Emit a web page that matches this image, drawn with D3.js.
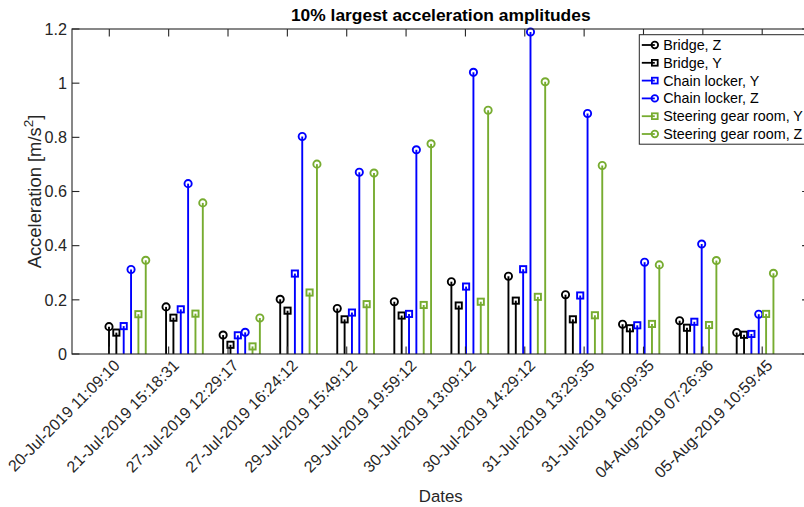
<!DOCTYPE html>
<html>
<head>
<meta charset="utf-8">
<script src="https://cdn.jsdelivr.net/npm/d3@7/dist/d3.min.js"></script>
<style>
  html, body { margin: 0; padding: 0; background: #fff; }
  svg { display: block; font-family: "Liberation Sans", Arial, Helvetica, sans-serif; }
</style>
</head>
<body>
<svg id="chart" width="804" height="507"></svg>
<script>
// Event timestamps (one group of stems per event)
const dates = [
  "20-Jul-2019 11:09:10", "21-Jul-2019 15:18:31", "27-Jul-2019 12:29:17",
  "27-Jul-2019 16:24:12", "29-Jul-2019 15:49:12", "29-Jul-2019 19:59:12",
  "30-Jul-2019 13:09:12", "30-Jul-2019 14:29:12", "31-Jul-2019 13:29:35",
  "31-Jul-2019 16:09:35", "04-Aug-2019 07:26:36", "05-Aug-2019 10:59:45"
];

// Acceleration amplitudes [m/s^2] per sensor and direction
const bridgeZ = [0.101, 0.174, 0.070, 0.202, 0.168, 0.193, 0.267, 0.287, 0.219, 0.110, 0.123, 0.079];
const bridgeY = [0.079, 0.134, 0.034, 0.160, 0.128, 0.142, 0.179, 0.197, 0.128, 0.095, 0.097, 0.071];
const chainY  = [0.103, 0.165, 0.069, 0.297, 0.153, 0.148, 0.249, 0.313, 0.216, 0.106, 0.119, 0.074];
const chainZ  = [0.312, 0.629, 0.080, 0.803, 0.671, 0.754, 1.040, 1.189, 0.888, 0.339, 0.406, 0.147];
const steerY  = [0.147, 0.149, 0.028, 0.227, 0.184, 0.181, 0.193, 0.211, 0.143, 0.111, 0.107, 0.148];
const steerZ  = [0.346, 0.558, 0.133, 0.701, 0.668, 0.776, 0.900, 1.005, 0.696, 0.329, 0.345, 0.298];

const yTicks = [0, 0.2, 0.4, 0.6, 0.8, 1, 1.2];

const series = [
  { name: "Bridge, Z",            values: bridgeZ, color: "#000000", marker: "circle" },
  { name: "Bridge, Y",            values: bridgeY, color: "#000000", marker: "square" },
  { name: "Chain locker, Y",      values: chainY,  color: "#0000ff", marker: "square" },
  { name: "Chain locker, Z",      values: chainZ,  color: "#0000ff", marker: "circle" },
  { name: "Steering gear room, Y",values: steerY,  color: "#77ac30", marker: "square" },
  { name: "Steering gear room, Z",values: steerZ,  color: "#77ac30", marker: "circle" }
];

const svg = d3.select("#chart");
const axisColor = "#262626";

// Axes box
const boxL = 72, boxR = 809.5, boxT = 29, boxB = 354;

// x: tick index units; y: acceleration
const x = d3.scaleLinear().domain([0, 11]).range([109.3, 762.2]);
const y = d3.scaleLinear().domain([0, 1.2]).range([boxB, boxT]);

// stem layout inside each group (in x units)
const groupStep = 0.9614, seriesStep = 0.1238, groupShift = -0.005;
const stemX = (i, k) => x(i * groupStep + groupShift + k * seriesStep);

const tickLen = 7.4;
const g = svg.append("g");

// Stems
series.forEach((s, k) => {
  const sg = g.append("g").attr("stroke", s.color).attr("fill", "none").attr("stroke-width", 1.9);
  s.values.forEach((v, i) => {
    const cx = stemX(i, k), cy = y(v);
    sg.append("line").attr("x1", cx).attr("x2", cx).attr("y1", y(0)).attr("y2", cy);
    if (s.marker === "circle") {
      sg.append("circle").attr("cx", cx).attr("cy", cy).attr("r", 3.6);
    } else {
      sg.append("rect").attr("x", cx - 3.1).attr("y", cy - 3.1).attr("width", 6.2).attr("height", 6.2);
    }
  });
});

// Axes with inward ticks (box style)
const ax = svg.append("g").attr("stroke", axisColor).attr("stroke-width", 1.1).attr("fill", "none");
ax.append("rect").attr("x", boxL).attr("y", boxT).attr("width", boxR - boxL).attr("height", boxB - boxT);

const xIdx = d3.range(dates.length);
xIdx.forEach(i => {
  const px = x(i);
  ax.append("line").attr("x1", px).attr("x2", px).attr("y1", boxB).attr("y2", boxB - tickLen);
  ax.append("line").attr("x1", px).attr("x2", px).attr("y1", boxT).attr("y2", boxT + tickLen);
});
yTicks.forEach(t => {
  const py = y(t);
  ax.append("line").attr("x1", boxL).attr("x2", boxL + tickLen).attr("y1", py).attr("y2", py);
  ax.append("line").attr("x1", boxR).attr("x2", boxR - tickLen).attr("y1", py).attr("y2", py);
});

// Y tick labels
const yFmt = d3.format("~g");
svg.append("g").selectAll("text").data(yTicks).join("text")
  .attr("x", boxL - 5).attr("y", d => y(d)).attr("dy", "0.35em")
  .attr("text-anchor", "end").attr("font-size", 16.2).attr("fill", axisColor)
  .text(d => yFmt(d));

// X tick labels, rotated
svg.append("g").selectAll("text").data(xIdx).join("text")
  .attr("transform", i => `translate(${x(i) + 7.5},${boxB + 8.5}) rotate(-45)`)
  .attr("dy", "0.35em")
  .attr("text-anchor", "end").attr("font-size", 16).attr("fill", axisColor)
  .text(i => dates[i]);

// Axis labels
svg.append("text")
  .attr("x", (boxL + boxR) / 2).attr("y", 502)
  .attr("text-anchor", "middle").attr("font-size", 16.8).attr("fill", axisColor)
  .text("Dates");

const yl = svg.append("text")
  .attr("transform", `translate(41,${(boxT + boxB) / 2}) rotate(-90)`)
  .attr("text-anchor", "middle").attr("font-size", 18.4).attr("fill", axisColor);
yl.append("tspan").text("Acceleration [m/s");
yl.append("tspan").attr("dy", -8).attr("font-size", 13.5).text("2");
yl.append("tspan").attr("dy", 8).text("]");

// Title
svg.append("text")
  .attr("x", (boxL + boxR) / 2).attr("y", 21)
  .attr("text-anchor", "middle").attr("font-size", 17.4).attr("font-weight", "bold").attr("fill", "#000")
  .text("10% largest acceleration amplitudes");

// Legend
const lgX = 639.3, lgY = 34.7, lgRowH = 17.8;
const lg = svg.append("g");
lg.append("rect").attr("x", lgX).attr("y", lgY).attr("width", 180).attr("height", 109.5)
  .attr("fill", "#fff").attr("stroke", axisColor).attr("stroke-width", 1);
series.forEach((s, k) => {
  const cy = lgY + 10.3 + k * lgRowH;
  const row = lg.append("g");
  row.append("line").attr("x1", lgX + 2.5).attr("x2", lgX + 15.5).attr("y1", cy).attr("y2", cy)
    .attr("stroke", s.color).attr("stroke-width", 1.8);
  if (s.marker === "circle") {
    row.append("circle").attr("cx", lgX + 15.5).attr("cy", cy).attr("r", 3.3)
      .attr("fill", "none").attr("stroke", s.color).attr("stroke-width", 1.8);
  } else {
    row.append("rect").attr("x", lgX + 15.5 - 2.9).attr("y", cy - 2.9).attr("width", 5.8).attr("height", 5.8)
      .attr("fill", "none").attr("stroke", s.color).attr("stroke-width", 1.8);
  }
  row.append("text").attr("x", lgX + 24).attr("y", cy).attr("dy", "0.35em")
    .attr("font-size", 14.3).attr("fill", "#000").text(s.name);
});
</script>
</body>
</html>
